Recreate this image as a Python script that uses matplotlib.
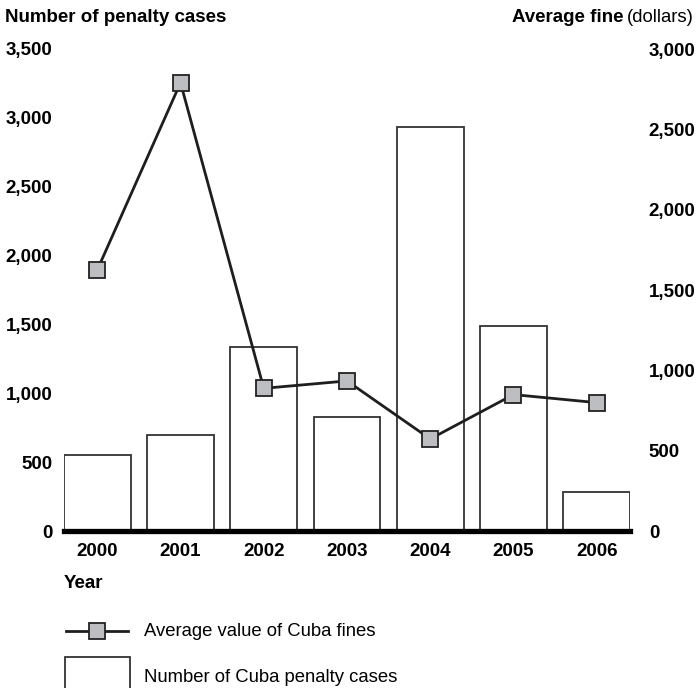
import numpy as np
import matplotlib.pyplot as plt
from matplotlib.lines import Line2D
from matplotlib.patches import Rectangle

plt.rcParams['font.family'] = ['Liberation Sans', 'DejaVu Sans']

# data
years = ['2000', '2001', '2002', '2003', '2004', '2005', '2006']
cases = [550, 700, 1335, 830, 2935, 1490, 280]          # left axis
avg_fine = [1625, 2790, 888, 934, 573, 849, 799]         # right axis (dollars)

left_ticks = [0, 500, 1000, 1500, 2000, 2500, 3000, 3500]
right_ticks = [0, 500, 1000, 1500, 2000, 2500, 3000]

FS = 13.5

fig = plt.figure(figsize=(6.96, 6.88), dpi=100)
ax = fig.add_axes([64 / 696, 1 - 531 / 688, 566 / 696, 482 / 688])
x = np.arange(len(years))

ax.bar(x, cases, width=0.8, color='white', edgecolor='#333333', linewidth=1.3, zorder=2)
ax.set_xlim(-0.4, len(years) - 0.6)
ax.set_ylim(0, 3500)
ax.set_yticks(left_ticks)
ax.set_yticklabels(['{:,}'.format(v) for v in left_ticks], fontsize=FS, fontweight='bold')
ax.set_xticks(x)
ax.set_xticklabels(years, fontsize=FS, fontweight='bold')
ax.tick_params(axis='y', length=0, pad=8.5)
ax.tick_params(axis='x', length=0, pad=9)
for s in ['top', 'right', 'left']:
    ax.spines[s].set_visible(False)
ax.spines['bottom'].set_linewidth(3.8)
ax.spines['bottom'].set_color('black')
ax.spines['bottom'].set_zorder(5)

ax2 = ax.twinx()
ax2.plot(x, avg_fine, color='#1e1e1e', linewidth=2, marker='s', markersize=11.5,
         markerfacecolor='#bdbec2', markeredgecolor='#222222', markeredgewidth=1.3, zorder=3)
ax2.set_ylim(0, 3000)
ax2.set_yticks(right_ticks)
ax2.set_yticklabels(['{:,}'.format(v) for v in right_ticks], fontsize=FS, fontweight='bold')
ax2.tick_params(axis='y', length=0, pad=13.5)
for s in ['top', 'right', 'left', 'bottom']:
    ax2.spines[s].set_visible(False)

# axis titles
fig.text(5 / 696, 1 - 17 / 688, 'Number of penalty cases', fontsize=FS, fontweight='bold',
         ha='left', va='center')
t = fig.text(694 / 696, 1 - 17 / 688, '(dollars)', fontsize=FS - 0.2, ha='right', va='center')
fig.canvas.draw()
bb = t.get_window_extent()
fig.text((bb.x0 - 4) / 696, 1 - 17 / 688, 'Average fine', fontsize=FS, fontweight='bold',
         ha='right', va='center')
fig.text(64 / 696, 1 - 583 / 688, 'Year', fontsize=FS, fontweight='bold', ha='left', va='center')

# legend
ly = 1 - 631 / 688
fig.add_artist(Line2D([66 / 696, 128 / 696], [ly, ly], color='#1e1e1e', linewidth=2))
fig.add_artist(Line2D([97 / 696], [ly], marker='s', markersize=11.5, markerfacecolor='#bdbec2',
                      markeredgecolor='#222222', markeredgewidth=1.3, linestyle='none'))
fig.text(144 / 696, ly, 'Average value of Cuba fines', fontsize=13.3, ha='left', va='center')
fig.add_artist(Rectangle((64.5 / 696, -0.05), 65 / 696, 1 - 657 / 688 + 0.05,
                         facecolor='white', edgecolor='#333333', linewidth=1.3))
fig.text(144 / 696, 1 - 678 / 688, 'Number of Cuba penalty cases', fontsize=13.3, ha='left', va='center')

fig.savefig('out.png', dpi=100)
